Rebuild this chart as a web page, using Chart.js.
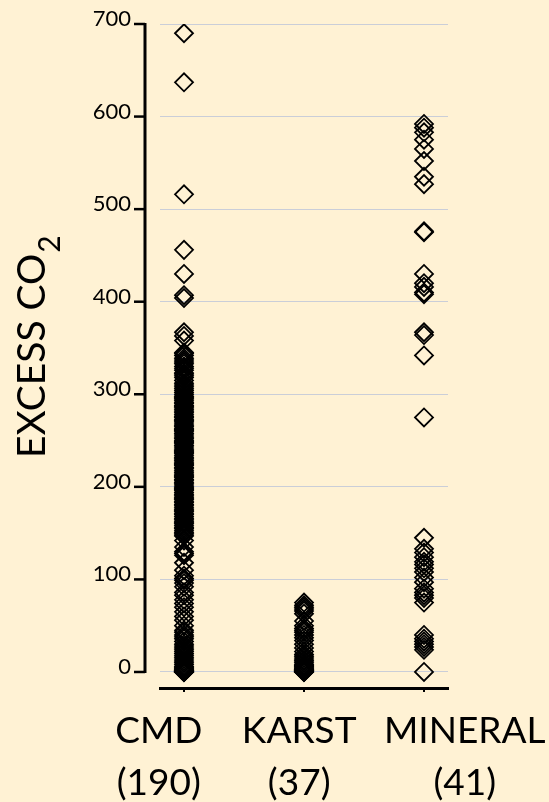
<!DOCTYPE html>
<html>
<head>
<meta charset="utf-8">
<script src="https://cdn.jsdelivr.net/npm/chart.js@4.4.1/dist/chart.umd.min.js"></script>
<style>
	html, body { margin: 0; padding: 0; background: #fff2d4; }
	canvas { display: block; }
</style>
</head>
<body>
<canvas id="co2_chart" width="549" height="802"></canvas>
<script>
// categories and sample counts
const categories = ['CMD', 'KARST', 'MINERAL'];
const counts = [190, 37, 41];
const label_centers = [0.79, 1.96, 3.34];
const y_ticks = [0, 100, 200, 300, 400, 500, 600, 700];

// excess CO2 values
const cmd_values = [
	690, 637, 516, 456, 430, 407, 404, 367, 363, 358,
	345, 344, 342, 339, 337, 335, 333, 330, 328, 326, 323, 322, 320,
	318, 315, 312, 310, 308, 306, 304, 302, 300, 298, 297, 296, 295,
	293, 291, 290, 288, 287, 286, 284, 283, 281, 280, 278, 276, 275,
	273, 272, 271, 270, 268, 266, 265, 263, 262, 261, 260, 258, 257,
	255, 253, 252, 250, 249, 248, 247, 245, 244, 242, 240, 239, 238,
	237, 236, 234, 232, 231, 229, 228, 226, 225, 224, 223, 221, 220,
	218, 216, 215, 213, 212, 211, 210, 208, 207, 205, 204, 202, 200,
	199, 198, 197, 196, 194, 192, 191, 189, 188, 187, 186, 184, 183,
	181, 180, 178, 176, 175, 174, 173, 171, 170, 168, 166, 165, 163,
	162, 161, 160, 158, 156, 155, 153, 151, 150, 148,
	147, 142, 135, 130, 128, 126, 118, 110, 104, 101, 99, 96, 92,
	86, 83, 78, 74, 70, 65, 60, 56,
	50, 45, 43, 40, 38, 36, 33, 30, 28, 26, 24, 22, 20, 18, 16, 14,
	12, 10, 8, 6, 5, 4, 3, 2, 2, 1, 1, 0, 0, 0, 0, 0
];
const karst_values = [
	75, 72, 70, 68, 66, 63, 55, 50, 47, 45,
	43, 40, 37, 34, 30, 26, 22, 19, 17, 15,
	13, 12, 10, 8, 7, 6, 5, 4, 3, 3,
	2, 2, 1, 1, 0, 0, 0
];
const mineral_values = [
	592, 588, 583, 575, 565, 552, 535, 527, 476, 475,
	430, 420, 416, 410, 408, 367, 364, 342, 275,
	145, 133, 129, 124, 119, 116, 112, 108, 102, 97, 90, 86, 83, 80, 75,
	40, 36, 33, 30, 27, 24, 0
];

const grid_color = '#caced8';
const font_family = 'Lato, "Open Sans", sans-serif';

Chart.defaults.font.family = font_family;
Chart.defaults.color = '#000';

const to_points = (values, cat) => values.map(v => ({x: cat, y: v}));

const axis_plugin = {
	id: 'axis_plugin',
	afterDraw(chart) {
		const ctx = chart.ctx;
		const xs = chart.scales.x;
		const ys = chart.scales.y;
		const area = chart.chartArea;
		const ax = area.left - 15;
		ctx.save();
		// left axis line, ticks and labels
		ctx.strokeStyle = '#000';
		ctx.fillStyle = '#000';
		ctx.lineWidth = 3;
		ctx.beginPath();
		ctx.moveTo(ax, ys.getPixelForValue(0) + 1);
		ctx.lineTo(ax, ys.getPixelForValue(700) - 1);
		ctx.stroke();
		ctx.lineWidth = 2.5;
		ctx.font = '22px ' + font_family;
		ctx.textAlign = 'right';
		ctx.textBaseline = 'alphabetic';
		y_ticks.forEach(t => {
			const py = ys.getPixelForValue(t);
			ctx.beginPath();
			ctx.moveTo(ax - 11, py);
			ctx.lineTo(ax, py);
			ctx.stroke();
			ctx.fillText(String(t), ax - 14, py + 2);
		});
		// axis title
		ctx.save();
		ctx.translate(45, 458);
		ctx.rotate(-Math.PI / 2);
		ctx.font = '39px ' + font_family;
		ctx.textAlign = 'left';
		ctx.fillText('EXCESS CO', 0, 0);
		const w = ctx.measureText('EXCESS CO').width;
		ctx.font = '30px ' + font_family;
		ctx.fillText('2', w + 1, 15);
		ctx.restore();
		// category labels
		ctx.textAlign = 'center';
		ctx.font = '37px ' + font_family;
		categories.forEach((c, i) => {
			const px = xs.getPixelForValue(label_centers[i]);
			ctx.fillText(c, px, 743);
			ctx.fillText('(' + counts[i] + ')', px, 795);
		});
		ctx.restore();
	}
};

const point_style = {
	pointStyle: 'rectRot',
	pointRadius: 9,
	pointHoverRadius: 9,
	pointBorderWidth: 1.8,
	borderColor: '#000',
	backgroundColor: 'rgba(0,0,0,0)',
	showLine: false
};

const co2_chart = new Chart(
	document.getElementById('co2_chart').getContext('2d'),
	{
		type: 'scatter',
		data: {
			datasets: [
				Object.assign({label: categories[0], data: to_points(cmd_values, 1)}, point_style),
				Object.assign({label: categories[1], data: to_points(karst_values, 2)}, point_style),
				Object.assign({label: categories[2], data: to_points(mineral_values, 3)}, point_style)
			]
		},
		options: {
			responsive: false,
			animation: false,
			events: [],
			layout: {
				padding: {left: 0, right: 101, top: 24, bottom: 114}
			},
			plugins: {
				legend: {display: false},
				tooltip: {enabled: false}
			},
			scales: {
				x: {
					type: 'linear',
					min: 0.8,
					max: 3.2,
					afterBuildTicks: s => { s.ticks = [{value: 1}, {value: 2}, {value: 3}]; },
					afterFit: s => { s.height = 0; },
					ticks: {display: false},
					grid: {
						display: true,
						drawOnChartArea: false,
						drawTicks: true,
						tickLength: 4,
						color: '#000',
						lineWidth: 2
					},
					border: {display: true, color: '#000', width: 3}
				},
				y: {
					type: 'linear',
					min: -17.3,
					max: 700,
					afterBuildTicks: s => { s.ticks = y_ticks.map(v => ({value: v})); },
					afterFit: s => { s.width = 160; },
					ticks: {display: false},
					grid: {
						color: grid_color,
						lineWidth: 1,
						drawTicks: false
					},
					border: {display: false}
				}
			}
		},
		plugins: [axis_plugin]
	}
);
</script>
</body>
</html>
